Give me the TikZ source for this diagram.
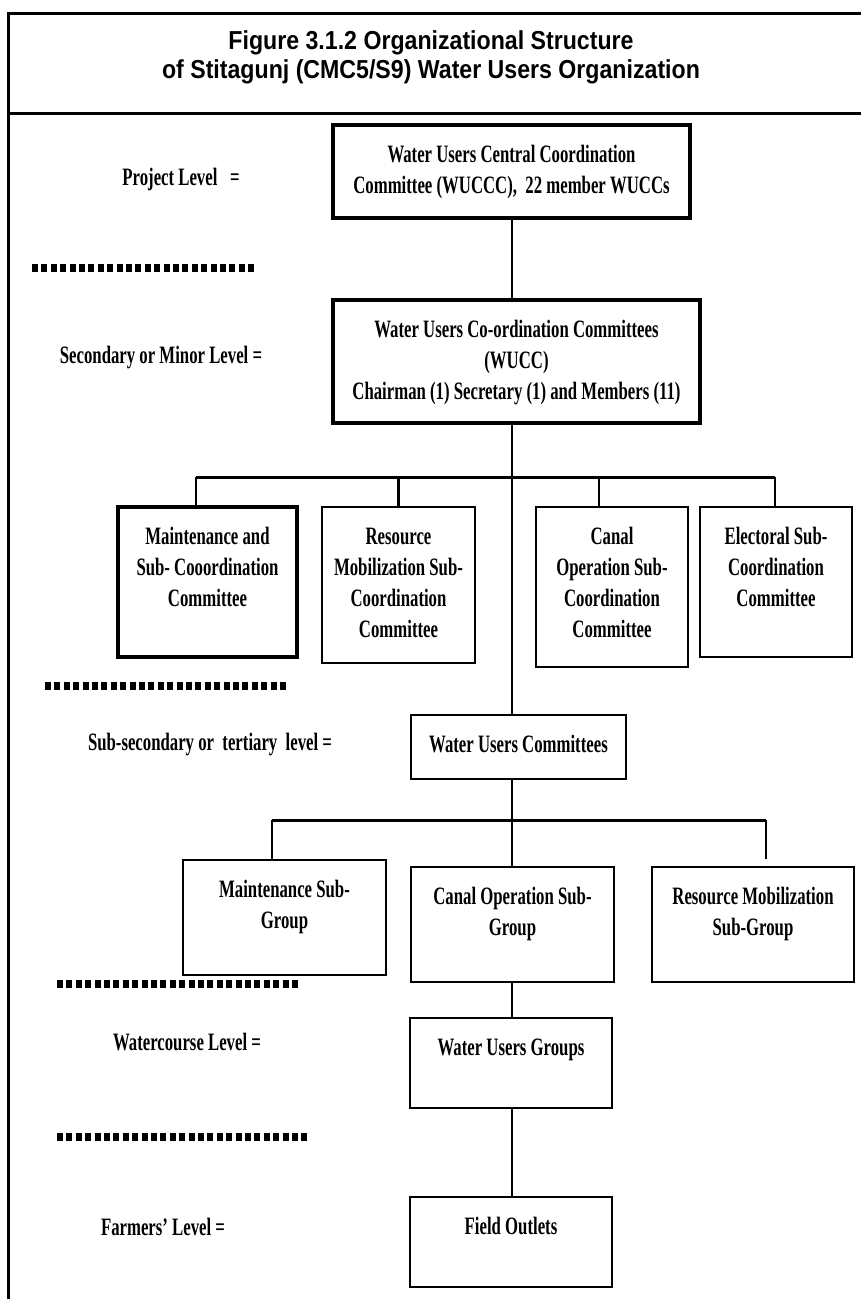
\documentclass[tikz,border=0pt]{standalone}
\usepackage{fontspec}
\newfontfamily\orgfont{Liberation Serif}[FakeStretch=0.67]
\newfontfamily\headfont{Liberation Sans}[FakeStretch=0.89]
% box content: fixed-size parbox, text hung from the top edge
\newcommand\orgtext[3]{\parbox[c][#2][t]{#1}{\centering\vspace*{16pt}\strut #3\par}}
\tikzset{
  orgbox/.style={draw, line width=2.2pt, inner sep=0pt, font=\orgfont\bfseries\fontsize{25}{31}\selectfont},
  heavy/.style={line width=4.5pt},
  link/.style={line width=2.4pt},
  busline/.style={line width=3pt},
  levelsep/.style={line width=8pt, dash pattern=on 6pt off 3.4pt},
  lvl/.style={inner sep=0pt, font=\orgfont\bfseries\fontsize{25}{31}\selectfont},
  frame/.style={line width=3pt},
}
\begin{document}
\begin{tikzpicture}[x=1pt,y=-1pt]
\useasboundingbox (0,0) rectangle (861,1299);
\fill[white] (0,0) rectangle (861,1299);

% outer frame and title strip
\draw[frame] (8,1310) -- (8,13) -- (875,13);
\draw[frame] (8,113) -- (875,113);
\node[inner sep=0pt, align=center, font=\headfont\bfseries\fontsize{26}{29}\selectfont]
  (title) at (431,57) {Figure 3.1.2 Organizational Structure\\of Stitagunj (CMC5/S9) Water Users Organization};

% level separators
\draw[levelsep] (32,268) -- (256,268);
\draw[levelsep] (45,686) -- (286,686);
\draw[levelsep] (57,984) -- (299,984);
\draw[levelsep] (57,1137) -- (309,1137);

% level captions
\node[lvl] (l1) at (181,179) {Project Level\ \ \ =};
\node[lvl] (l2) at (161,358) {Secondary or Minor Level =};
\node[lvl] (l3) at (210,745) {Sub-secondary or\ \ tertiary\ \ level =};
\node[lvl] (l4) at (187,1042) {Watercourse Level\ =};
\node[lvl] (l5) at (163,1227) {Farmers’ Level\ =};

% committees
\node[orgbox,heavy] (wuccc) at (511.5,171.5)
  {\orgtext{357pt}{93pt}{Water Users Central Coordination\\Committee (WUCCC),\ \ 22 member WUCCs}};
\node[orgbox,heavy] (wucc) at (516.5,361.5)
  {\orgtext{367pt}{123pt}{Water Users Co-ordination Committees\\(WUCC)\\Chairman (1) Secretary (1) and Members (11)}};

\node[orgbox,heavy] (maint) at (207.5,582)
  {\orgtext{179pt}{150pt}{Maintenance and\\Sub- Cooordination\\Committee}};
\node[orgbox] (resmob) at (398.5,585)
  {\orgtext{153pt}{156pt}{Resource\\Mobilization Sub-\\Coordination\\Committee}};
\node[orgbox] (canal) at (612,587)
  {\orgtext{152pt}{160pt}{Canal\\Operation Sub-\\Coordination\\Committee}};
\node[orgbox] (elect) at (776,582)
  {\orgtext{152pt}{150pt}{Electoral Sub-\\Coordination\\Committee}};

\node[orgbox] (wuc) at (518.5,747)
  {\orgtext{215pt}{64pt}{Water Users Committees}};

\node[orgbox] (maintsg) at (284.5,917.5)
  {\orgtext{203pt}{115pt}{Maintenance Sub-\\Group}};
\node[orgbox] (canalsg) at (512.5,924.5)
  {\orgtext{203pt}{115pt}{Canal Operation Sub-\\Group}};
\node[orgbox] (resmobsg) at (753,924.5)
  {\orgtext{202pt}{115pt}{Resource Mobilization\\Sub-Group}};

\node[orgbox] (wug) at (511,1063)
  {\orgtext{202pt}{90pt}{Water Users Groups}};
\node[orgbox] (fo) at (511,1242)
  {\orgtext{202pt}{90pt}{Field Outlets}};

% trunk and branches
\coordinate (trunk) at (512,0);
\coordinate (bus1) at (512,477);
\coordinate (bus2) at (512,820);
\coordinate (rmend) at (766,859);

\draw[link] (wuccc.south -| trunk) -- (wucc.north -| trunk);
\draw[link] (wucc.south -| trunk) -- (wuc.north -| trunk);
\draw[busline] ([xshift=-11.5pt]maint.north |- bus1) -- ([xshift=-1pt]elect.north |- bus1);
\draw[link] ([xshift=-11.5pt]maint.north) -- ([xshift=-11.5pt]maint.north |- bus1);
\draw[link] (resmob.north) -- (resmob.north |- bus1);
\draw[link] ([xshift=-13pt]canal.north) -- ([xshift=-13pt]canal.north |- bus1);
\draw[link] ([xshift=-1pt]elect.north) -- ([xshift=-1pt]elect.north |- bus1);

\draw[link] (wuc.south -| trunk) -- (canalsg.north -| trunk);
\draw[busline] ([xshift=-12.5pt]maintsg.north |- bus2) -- (rmend |- bus2);
\draw[link] ([xshift=-12.5pt]maintsg.north) -- ([xshift=-12.5pt]maintsg.north |- bus2);
\draw[link] (rmend) -- (rmend |- bus2);

\draw[link] (canalsg.south -| trunk) -- (wug.north -| trunk);
\draw[link] (wug.south -| trunk) -- (fo.north -| trunk);
\end{tikzpicture}
\end{document}
